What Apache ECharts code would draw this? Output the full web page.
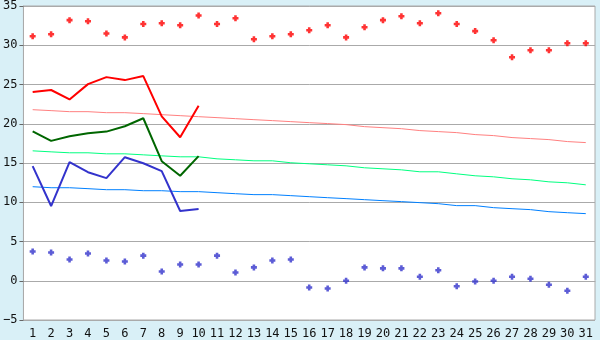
<!DOCTYPE html>
<html><head><meta charset="utf-8">
<script src="https://cdn.jsdelivr.net/npm/echarts@6/dist/echarts.min.js"></script>
<style>html,body{margin:0;padding:0;background:#d9f0f7;}#c{width:600px;height:340px;}</style>
</head><body><div id="c"></div>
<script>
var days = ['1','2','3','4','5','6','7','8','9','10','11','12','13','14','15','16','17','18','19','20','21','22','23','24','25','26','27','28','29','30','31'];
var recordMax = [31.15,31.4,33.2,33.05,31.5,31.0,32.7,32.8,32.55,33.8,32.7,33.45,30.77,31.15,31.4,31.9,32.55,31.0,32.3,33.2,33.7,32.8,34.07,32.7,31.8,30.64,28.48,29.37,29.37,30.26,30.26];
var recordMin = [3.72,3.6,2.7,3.47,2.58,2.45,3.2,1.18,2.07,2.07,3.2,1.05,1.7,2.58,2.7,-0.85,-0.98,0.0,1.7,1.58,1.58,0.5,1.33,-0.7,-0.1,0.0,0.5,0.25,-0.5,-1.27,0.5];
var dayMax = [24.04,24.3,23.1,25.05,25.94,25.56,26.07,20.95,18.28,22.3];
var dayMean = [19.04,17.82,18.4,18.78,19.0,19.68,20.7,15.23,13.37,15.87];
var dayMin = [14.6,9.52,15.1,13.83,13.07,15.74,14.97,13.96,8.88,9.13];
var normMax = [21.79,21.67,21.54,21.54,21.41,21.41,21.29,21.16,21.03,20.9,20.78,20.65,20.52,20.4,20.27,20.14,20.02,19.89,19.63,19.5,19.37,19.13,19.0,18.87,18.62,18.49,18.24,18.11,17.98,17.73,17.6];
var normMean = [16.55,16.42,16.3,16.3,16.17,16.17,16.04,15.91,15.79,15.79,15.53,15.41,15.28,15.28,15.03,14.9,14.77,14.64,14.39,14.26,14.13,13.88,13.88,13.62,13.37,13.24,12.99,12.86,12.6,12.48,12.22];
var normMin = [11.98,11.85,11.85,11.73,11.6,11.6,11.47,11.47,11.35,11.35,11.22,11.09,10.97,10.97,10.84,10.71,10.58,10.46,10.33,10.2,10.08,9.95,9.82,9.57,9.57,9.31,9.18,9.06,8.8,8.67,8.55];
var yTicks = {min:-5, max:35, interval:5};

var plus = 'path://M2,0H5V2H7V5H5V7H2V5H0V2H2Z';
var chart = echarts.init(document.getElementById('c'), null, {renderer:'canvas'});
var font = {fontFamily:'DejaVu Sans Mono', fontSize:12, color:'#111'};
function line(data, color, w, z){
  return {type:'line', data:data, symbol:'none', lineStyle:{color:color, width:w}, z:z, animation:false, silent:true};
}
chart.setOption({
  backgroundColor:'#d9f0f7',
  animation:false,
  grid:{left:21, right:5, top:5, bottom:20, show:true, backgroundColor:'#ffffff', borderColor:'#aaaaaa', borderWidth:1},
  xAxis:{type:'category', data:days, boundaryGap:true,
    axisLine:{lineStyle:{color:'#aaaaaa'}},
    axisTick:{alignWithLabel:true, length:5, lineStyle:{color:'#666666'}},
    axisLabel:Object.assign({margin:8, interval:0}, font),
    splitLine:{show:false}},
  yAxis:{type:'value', min:yTicks.min, max:yTicks.max, interval:yTicks.interval,
    axisLine:{show:true, lineStyle:{color:'#aaaaaa'}},
    axisTick:{show:true, length:4, lineStyle:{color:'#666666'}},
    axisLabel:Object.assign({margin:6, formatter:function(v){return String(v).replace('-','\u2212');}}, font),
    splitLine:{lineStyle:{color:'#aaaaaa', width:1}}},
  series:[
    line(normMax,'#ff8080',1,1),
    line(normMean,'#00ff80',1,1),
    line(normMin,'#0080ff',1,1),
    line(dayMax,'#ff0000',2,3),
    line(dayMean,'#006600',2,3),
    line(dayMin,'#3333cc',2,3),
    {type:'scatter', data:recordMax, symbol:plus, symbolSize:6, itemStyle:{color:'#ff0000'}, z:4},
    {type:'scatter', data:recordMin, symbol:plus, symbolSize:6, itemStyle:{color:'#3333cc'}, z:4}
  ]
});
</script></body></html>
